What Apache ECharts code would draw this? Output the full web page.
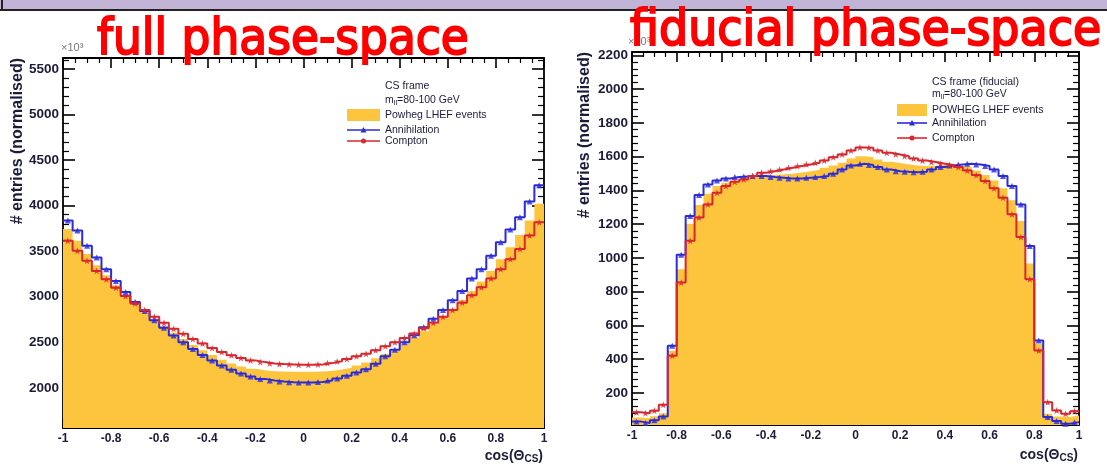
<!DOCTYPE html>
<html>
<head>
<meta charset="utf-8">
<script src="https://cdn.jsdelivr.net/npm/echarts@6/dist/echarts.min.js"></script>
<style>
html,body{margin:0;padding:0;background:#ffffff;}
#chart{width:1107px;height:465px;}
</style>
</head>
<body>
<div id="chart"></div>
<script>
// cos(theta_CS) binning: 50 bins of width 0.04 on [-1, 1]
const binStart = -1;
const binWidth = 0.04;

// full phase-space, entries (normalised, x10^3)
const fullPowheg = [3744,3616,3468,3347,3237,3126,3023,2927,2839,2751,2677,2604,2537,2471,2412,2361,2309,2269,2236,2210,2195,2184,2180,2177,2177,
                    2177,2180,2188,2202,2221,2247,2280,2324,2372,2427,2486,2552,2622,2699,2780,2869,2964,3064,3167,3284,3413,3542,3678,3836,4020];
const fullAnnihilation = [3836,3726,3560,3432,3303,3174,3053,2942,2843,2743,2659,2574,2501,2427,2361,2302,2247,2199,2158,2125,2099,2081,2070,2063,2059,
                          2059,2066,2081,2103,2133,2169,2206,2265,2346,2420,2501,2578,2666,2758,2854,2961,3064,3200,3303,3450,3597,3737,3873,4046,4223];
const fullCompton = [3616,3505,3395,3284,3192,3100,3008,2927,2854,2780,2714,2648,2593,2537,2486,2438,2394,2357,2328,2302,2283,2269,2261,2258,2254,
                     2254,2258,2272,2291,2317,2346,2375,2412,2456,2501,2548,2596,2655,2714,2780,2854,2935,3016,3104,3200,3303,3413,3524,3671,3818];

// fiducial phase-space, entries (normalised)
const fidPowheg = [55,50,62,80,450,933,1203,1313,1380,1426,1445,1459,1471,1479,1487,1491,1495,1499,1506,1514,1522,1534,1548,1564,1589,
                   1603,1597,1583,1569,1562,1554,1548,1544,1546,1550,1548,1545,1538,1518,1491,1459,1412,1341,1219,967,490,76,60,57,66];
const fidAnnihilation = [30,22,38,60,480,1018,1248,1372,1435,1459,1471,1479,1483,1485,1485,1479,1475,1471,1471,1475,1479,1485,1499,1524,1547,
                         1558,1550,1538,1524,1514,1510,1508,1510,1524,1538,1548,1554,1558,1554,1544,1524,1485,1426,1317,1071,510,57,33,17,27];
const fidCompton = [85,80,95,130,421,854,1101,1239,1317,1386,1426,1451,1465,1485,1504,1514,1524,1534,1544,1554,1564,1577,1597,1613,1636,
                    1654,1652,1636,1623,1613,1603,1589,1577,1568,1558,1550,1538,1518,1491,1455,1412,1357,1258,1124,874,451,145,96,76,92];

// axis tick labels
const fullYTicks = [2000,2500,3000,3500,4000,4500,5000,5500];
const fidYTicks = [200,400,600,800,1000,1200,1400,1600,1800,2000,2200];

const C_YEL = '#fdc53e';
const C_BLUE = '#2b2bd9';
const C_RED = '#d9272e';
const C_TXT = '#1c1c3a';

function stepPoints(vals){
  const pts = [];
  vals.forEach((v,i)=>{
    const lo = binStart + i*binWidth;
    pts.push([lo, v], [lo + binWidth, v]);
  });
  return pts;
}
function centerPoints(vals){
  return vals.map((v,i)=>[binStart + (i+0.5)*binWidth, v]);
}
function minorValues(min, max, step, majors){
  const out = [];
  for (let v = Math.ceil(min/step)*step; v <= max + 1e-9; v += step){
    const r = Math.round(v*1000)/1000;
    if (majors.indexOf(r) < 0) out.push(r);
  }
  return out;
}

const STAR = 'path://M0,-10L2.4,-3.1L9.5,-3.1L3.8,1.2L5.9,8.1L0,4L-5.9,8.1L-3.8,1.2L-9.5,-3.1L-2.4,-3.1Z';

const panels = [
  {grid:{left:63, top:58, width:481, height:370}, yMin:1560, yMax:5620, yTicks:fullYTicks, minorStep:100,
   powheg:fullPowheg, ann:fullAnnihilation, comp:fullCompton},
  {grid:{left:632, top:52, width:447, height:373}, yMin:10, yMax:2220, yTicks:fidYTicks, minorStep:40,
   powheg:fidPowheg, ann:fidAnnihilation, comp:fidCompton}
];

const grids = [], xAxes = [], yAxes = [], series = [];
const axisLine = {show:true, onZero:false, lineStyle:{color:'#000', width:1.8}};
const noLine = {show:false, onZero:false};

panels.forEach((p, k)=>{
  grids.push(Object.assign({outerBoundsMode:'none', containLabel:false}, p.grid));
  const xBase = {type:'value', gridIndex:k, min:-1, max:1, interval:0.2,
    splitLine:{show:false}, axisLine:axisLine,
    axisTick:{show:true, inside:true, length:10, lineStyle:{color:'#000', width:1.6}},
    minorTick:{show:true, splitNumber:4, length:5, lineStyle:{color:'#000', width:1.2}}};
  xAxes.push(Object.assign({}, xBase, {position:'bottom',
    axisLabel:{show:true, margin:5, color:C_TXT, fontFamily:'Liberation Sans', fontWeight:'bold', fontSize:12,
      formatter:v=>String(Math.round(v*10)/10)}}));
  xAxes.push(Object.assign({}, xBase, {position:'top', axisLabel:{show:false}}));

  const minors = minorValues(p.yMin, p.yMax, p.minorStep, p.yTicks);
  const yBase = {type:'value', gridIndex:k, min:p.yMin, max:p.yMax, splitLine:{show:false}};
  yAxes.push(Object.assign({}, yBase, {position:'left', axisLine:axisLine,
    axisLabel:{show:true, customValues:p.yTicks, margin:4, color:C_TXT, fontFamily:'Liberation Sans', fontWeight:'bold', fontSize:13.5,
      formatter:v=>String(v)},
    axisTick:{show:true, inside:true, length:12, customValues:p.yTicks, lineStyle:{color:'#000', width:1.6}}}));
  yAxes.push(Object.assign({}, yBase, {position:'left', axisLine:noLine, axisLabel:{show:false},
    axisTick:{show:true, inside:true, length:6, customValues:minors, lineStyle:{color:'#000', width:1.2}}}));
  yAxes.push(Object.assign({}, yBase, {position:'right', axisLine:axisLine, axisLabel:{show:false},
    axisTick:{show:true, inside:true, length:12, customValues:p.yTicks, lineStyle:{color:'#000', width:1.6}}}));
  yAxes.push(Object.assign({}, yBase, {position:'right', axisLine:noLine, axisLabel:{show:false},
    axisTick:{show:true, inside:true, length:6, customValues:minors, lineStyle:{color:'#000', width:1.2}}}));

  const xi = k*2, yi = k*4;
  series.push({type:'line', name:'Powheg LHEF events', xAxisIndex:xi, yAxisIndex:yi, data:stepPoints(p.powheg),
    showSymbol:false, lineStyle:{width:0}, areaStyle:{color:C_YEL, opacity:1, origin:'start'}, z:1, silent:true});
  series.push({type:'line', name:'Annihilation', xAxisIndex:xi, yAxisIndex:yi, data:stepPoints(p.ann),
    showSymbol:false, lineStyle:{color:C_BLUE, width:2}, z:3, silent:true});
  series.push({type:'scatter', xAxisIndex:xi, yAxisIndex:yi, data:centerPoints(p.ann),
    symbol:'triangle', symbolSize:6, itemStyle:{color:C_BLUE}, z:4, silent:true});
  series.push({type:'line', name:'Compton', xAxisIndex:xi, yAxisIndex:yi, data:stepPoints(p.comp),
    showSymbol:false, lineStyle:{color:C_RED, width:2}, z:5, silent:true});
  series.push({type:'scatter', xAxisIndex:xi, yAxisIndex:yi, data:centerPoints(p.comp),
    symbol:STAR, symbolSize:7, itemStyle:{color:C_RED}, z:6, silent:true});
});

const legFont = {fontFamily:'Liberation Sans', fontSize:10.5, fill:C_TXT, verticalAlign:'middle'};
const subRich = {sub:{fontSize:7.5, fill:C_TXT, fontFamily:'Liberation Sans', padding:[5,0,0,0]}};
function ltext(x, y, t){
  return {type:'text', x:x, y:y, style:Object.assign({text:t, rich:subRich}, legFont), z:20};
}
function legendBlock(x0, boxX, boxW, rows){
  const els = [];
  els.push(ltext(x0, rows[0], 'CS frame' + (rows.fid ? ' (fiducial)' : '')));
  els.push(ltext(x0, rows[1], 'm{sub|ll}=80-100 GeV'));
  els.push({type:'rect', shape:{x:boxX, y:rows[2]-6, width:boxW, height:12}, style:{fill:C_YEL}, z:20});
  els.push(ltext(x0, rows[2], rows.fid ? 'POWHEG LHEF events' : 'Powheg LHEF events'));
  els.push({type:'line', shape:{x1:boxX, y1:rows[3], x2:boxX+boxW, y2:rows[3]}, style:{stroke:C_BLUE, lineWidth:1.6}, z:20});
  els.push({type:'polygon', shape:{points:[[boxX+boxW/2-3, rows[3]+2.5],[boxX+boxW/2+3, rows[3]+2.5],[boxX+boxW/2, rows[3]-3]]}, style:{fill:C_BLUE}, z:21});
  els.push(ltext(x0, rows[3], 'Annihilation'));
  els.push({type:'line', shape:{x1:boxX, y1:rows[4], x2:boxX+boxW, y2:rows[4]}, style:{stroke:C_RED, lineWidth:1.6}, z:20});
  els.push({type:'circle', shape:{cx:boxX+boxW/2, cy:rows[4], r:2.5}, style:{fill:C_RED}, z:21});
  els.push(ltext(x0, rows[4], 'Compton'));
  return els;
}
const leftRows = [86, 100, 115, 130, 141];
const rightRows = [82, 94, 110, 123, 138]; rightRows.fid = true;

const titleFont = {fontFamily:'DejaVu Sans', fill:'#ff0000', stroke:'#ff0000', lineWidth:2, verticalAlign:'middle'};
const axisTitle = {fontFamily:'Liberation Sans', fontWeight:'bold', fill:C_TXT, verticalAlign:'middle'};
const csRich = {sub:{fontSize:10, fontWeight:'bold', fill:C_TXT, fontFamily:'Liberation Sans', padding:[7,0,0,0]}};
const graphics = [
  {type:'rect', shape:{x:0, y:0, width:1107, height:10}, style:{fill:'#c2b4d6'}, z:30},
  {type:'line', shape:{x1:0, y1:10, x2:1107, y2:10}, style:{stroke:'#222', lineWidth:2}, z:31},
  {type:'line', shape:{x1:2, y1:0, x2:2, y2:10}, style:{stroke:'#222', lineWidth:2}, z:31},
  {type:'text', x:97, y:41, scaleX:0.91, style:Object.assign({text:'full phase-space', fontSize:50}, titleFont), z:40},
  {type:'text', x:630, y:32, scaleX:0.92, style:Object.assign({text:'fiducial phase-space', fontSize:50}, titleFont), z:40},
  {type:'text', x:61, y:48, style:{text:'×10³', fontFamily:'Liberation Sans', fontSize:11, fill:'#777', verticalAlign:'middle'}, z:20},
  {type:'text', x:628, y:42, style:{text:'×10³', fontFamily:'Liberation Sans', fontSize:11, fill:'#777', verticalAlign:'middle'}, z:20},
  {type:'text', x:18, y:58, rotation:Math.PI/2, style:Object.assign({text:'# entries (normalised)', fontSize:16, align:'right'}, axisTitle), z:20},
  {type:'text', x:585, y:52, rotation:Math.PI/2, style:Object.assign({text:'# entries (normalised)', fontSize:16, align:'right'}, axisTitle), z:20},
  {type:'text', x:543, y:456, style:Object.assign({text:'cos(Θ{sub|CS})', rich:csRich, fontSize:14, align:'right'}, axisTitle), z:20},
  {type:'text', x:1078, y:455, style:Object.assign({text:'cos(Θ{sub|CS})', rich:csRich, fontSize:14, align:'right'}, axisTitle), z:20}
].concat(legendBlock(385, 347, 33, leftRows), legendBlock(932, 897, 30, rightRows));

const chart = echarts.init(document.getElementById('chart'), null, {renderer:'canvas'});
chart.setOption({
  animation:false,
  backgroundColor:'#ffffff',
  grid:grids,
  xAxis:xAxes,
  yAxis:yAxes,
  series:series,
  graphic:graphics
});
</script>
</body>
</html>
